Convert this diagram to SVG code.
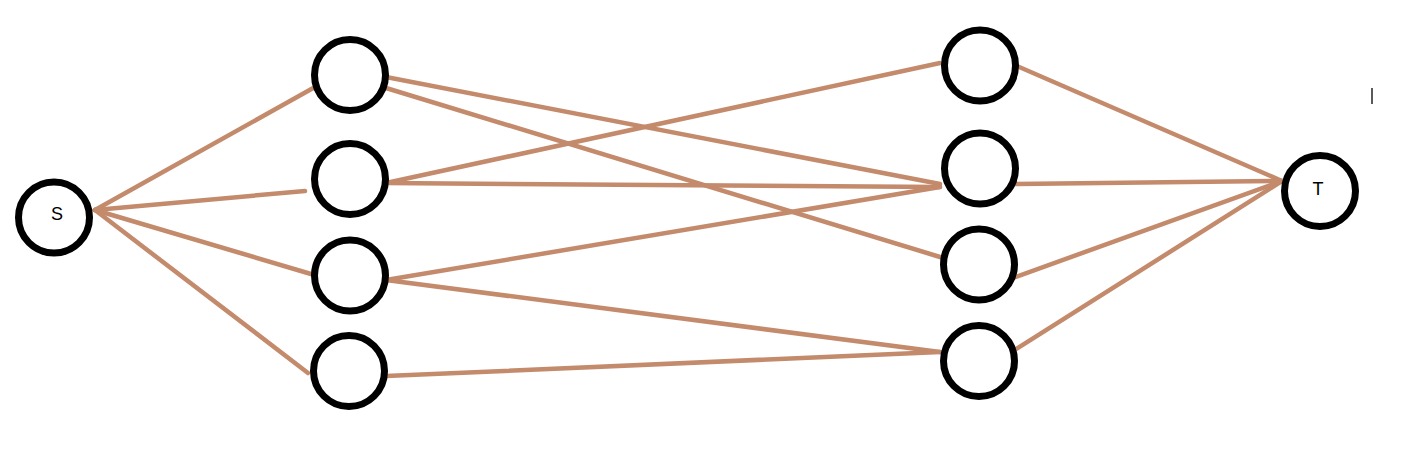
<svg xmlns="http://www.w3.org/2000/svg" width="1426" height="454" viewBox="0 0 1426 454">
<style>
.node{fill:#fff;stroke:#000;stroke-width:7}
.edge{stroke:#C48A6C;stroke-width:4.5;stroke-linecap:round;fill:none}
.lbl{font-family:"Liberation Sans",Arial,sans-serif;font-size:18px;fill:#000;text-anchor:middle}
</style>
<rect width="1426" height="454" fill="#fff"/>
<g id="connectors">
<line class="edge" x1="95" y1="210" x2="315" y2="87"/>
<line class="edge" x1="95" y1="210" x2="305" y2="191"/>
<line class="edge" x1="95" y1="210" x2="311" y2="274"/>
<line class="edge" x1="95" y1="210" x2="308" y2="373"/>
<line class="edge" x1="386" y1="77" x2="940" y2="184"/>
<line class="edge" x1="386" y1="88" x2="940" y2="257"/>
<line class="edge" x1="386" y1="183" x2="940" y2="63"/>
<line class="edge" x1="386" y1="183" x2="940" y2="187"/>
<line class="edge" x1="386" y1="280" x2="940" y2="187"/>
<line class="edge" x1="386" y1="280" x2="940" y2="352"/>
<line class="edge" x1="386" y1="376" x2="940" y2="352"/>
<line class="edge" x1="1010" y1="63" x2="1282" y2="181"/>
<line class="edge" x1="1010" y1="184" x2="1282" y2="181"/>
<line class="edge" x1="1010" y1="279" x2="1282" y2="181"/>
<line class="edge" x1="1010" y1="353" x2="1282" y2="181"/>
</g>
<g id="S"><circle class="node" cx="54" cy="217.5" r="35.5"/><text class="lbl" x="57" y="220">S</text></g>
<g id="T"><circle class="node" cx="1320" cy="191" r="35.5"/><text class="lbl" x="1318" y="195">T</text></g>
<g id="A1"><circle class="node" cx="350" cy="75" r="35.5"/></g>
<g id="A2"><circle class="node" cx="350" cy="179" r="35.5"/></g>
<g id="A3"><circle class="node" cx="350" cy="275.5" r="35.5"/></g>
<g id="A4"><circle class="node" cx="349" cy="371" r="35.5"/></g>
<g id="B1"><circle class="node" cx="980" cy="65.5" r="35.5"/></g>
<g id="B2"><circle class="node" cx="980" cy="168.5" r="35.5"/></g>
<g id="B3"><circle class="node" cx="979" cy="264.5" r="35.5"/></g>
<g id="B4"><circle class="node" cx="979" cy="361" r="35.5"/></g>
<line x1="1372" y1="88" x2="1372" y2="104" stroke="#000" stroke-width="1.3"/>
</svg>
